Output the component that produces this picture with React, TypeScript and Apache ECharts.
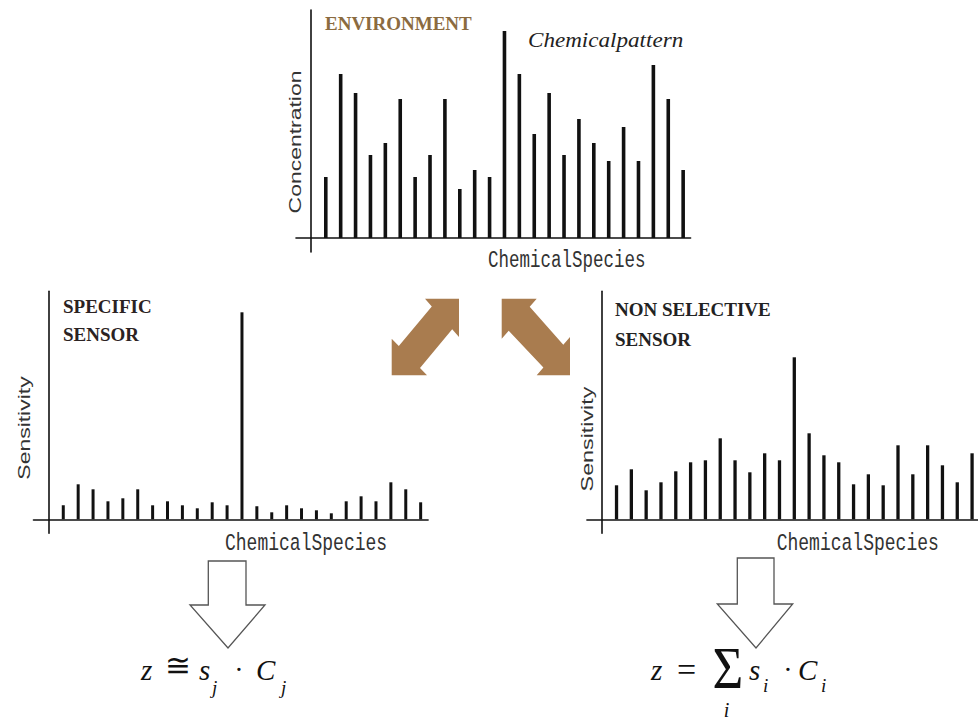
import { useEffect, useRef } from "react";
import * as echarts from "echarts";

// Concentration of each chemical species in the environment
const concentration = [61, 164, 145, 83, 95, 139, 61, 83, 139, 49, 68, 61, 207, 164, 104, 145, 83, 119, 95, 77, 111, 77, 173, 139, 68];
// Response of a specific sensor to each species
const specificSensitivity = [14, 35, 30, 18, 21, 30, 14, 18, 14, 11, 17, 14, 207, 13, 7, 14, 11, 9, 6, 18, 23, 18, 37, 30, 17];
// Response of a non-selective sensor to each species
const nonSelectiveSensitivity = [34, 50, 29, 37, 48, 57, 59, 81, 59, 47, 66, 59, 162, 86, 64, 57, 35, 45, 34, 74, 45, 74, 54, 37, 66];

const AXIS_COLOR = "#111";
const BROWN = "#a97c4f";
const SERIF = "'Liberation Serif', 'Times New Roman', serif";
const SANS = "'Liberation Sans', Arial, sans-serif";
const MONO = "'Liberation Mono', 'Courier New', monospace";

// species are placed at positions 1..n along each x axis
const toPoints = (values: number[]) => values.map((v, i) => [i + 1, v]);

const axisLine = { show: true, onZero: true, lineStyle: { color: AXIS_COLOR, width: 1.6 } };

const xAxisFor = (gridIndex: number, max: number) => ({
  type: "value",
  gridIndex,
  min: -1,
  max,
  axisLine,
  axisTick: { show: false },
  axisLabel: { show: false },
  splitLine: { show: false },
});

const yAxisFor = (gridIndex: number) => ({
  type: "value",
  gridIndex,
  min: -14,
  max: 228,
  axisLine,
  axisTick: { show: false },
  axisLabel: { show: false },
  splitLine: { show: false },
});

const barSeries = (idx: number, values: number[], width: number) => ({
  type: "bar",
  xAxisIndex: idx,
  yAxisIndex: idx,
  data: toPoints(values),
  barWidth: width,
  itemStyle: { color: "#111" },
  silent: true,
});

type TextOpts = {
  fontSize?: number;
  fontFamily?: string;
  fontStyle?: string;
  fontWeight?: string | number;
  fill?: string;
  align?: string;
  rotation?: number;
  scaleX?: number;
  scaleY?: number;
};

const label = (text: string, x: number, y: number, o: TextOpts = {}) => ({
  type: "text",
  x,
  y,
  rotation: o.rotation ?? 0,
  scaleX: o.scaleX ?? 1,
  scaleY: o.scaleY ?? 1,
  style: {
    text,
    fill: o.fill ?? "#222",
    fontSize: o.fontSize ?? 16,
    fontFamily: o.fontFamily ?? SANS,
    fontStyle: o.fontStyle ?? "normal",
    fontWeight: o.fontWeight ?? "normal",
    textAlign: o.align ?? "left",
    align: o.align ?? "left",
    textVerticalAlign: "middle",
    verticalAlign: "middle",
  },
});

const poly = (points: number[][], fill: string, stroke?: string) => ({
  type: "polygon",
  shape: { points },
  style: stroke ? { fill, stroke, lineWidth: 1.3 } : { fill },
});

export default function App() {
  const ref = useRef<HTMLDivElement>(null);

  useEffect(() => {
    if (!ref.current) return;
    const chart = echarts.init(ref.current, undefined, { renderer: "svg" });

    const italic = { fontFamily: SERIF, fontStyle: "italic", fill: "#111" };
    const vertical = { fontSize: 17, rotation: Math.PI / 2, fill: "#333", align: "center" };

    chart.setOption({
      animation: false,
      backgroundColor: "#ffffff",
      grid: [
        { left: 296, top: 10, width: 394.6, height: 242 },
        { left: 33.5, top: 291.3, width: 394.6, height: 242 },
        { left: 586.9, top: 291.3, width: 392.3, height: 242 },
      ],
      xAxis: [xAxisFor(0, 25.5), xAxisFor(1, 25.5), xAxisFor(2, 25.4)],
      yAxis: [yAxisFor(0), yAxisFor(1), yAxisFor(2)],
      series: [
        barSeries(0, concentration, 3.6),
        barSeries(1, specificSensitivity, 3),
        barSeries(2, nonSelectiveSensitivity, 3.3),
      ],
      graphic: [
        // environment panel
        label("ENVIRONMENT", 325, 23.5, { fontSize: 19, fontFamily: SERIF, fontWeight: "bold", fill: "#8b6b3f" }),
        label("Chemicalpattern", 528, 39.5, { fontSize: 21, fontFamily: SERIF, fontStyle: "italic", scaleX: 1.1, fill: "#222" }),
        label("Concentration", 295, 142, { ...vertical, scaleX: 1.35 }),
        label("ChemicalSpecies", 488, 260, { fontSize: 17, fontFamily: MONO, scaleX: 1.03, scaleY: 1.45, fill: "#333" }),

        // specific sensor panel
        label("SPECIFIC", 63, 306.7, { fontSize: 19, fontFamily: SERIF, fontWeight: "bold", fill: "#2b2222" }),
        label("SENSOR", 63, 334.5, { fontSize: 19, fontFamily: SERIF, fontWeight: "bold", fill: "#2b2222" }),
        label("Sensitivity", 24, 428, { ...vertical, scaleX: 1.35 }),
        label("ChemicalSpecies", 225, 543.3, { fontSize: 17, fontFamily: MONO, scaleX: 1.06, scaleY: 1.45, fill: "#333" }),

        // non-selective sensor panel
        label("NON SELECTIVE", 615, 309, { fontSize: 19, fontFamily: SERIF, fontWeight: "bold", fill: "#222" }),
        label("SENSOR", 615, 339, { fontSize: 19, fontFamily: SERIF, fontWeight: "bold", fill: "#222" }),
        label("Sensitivity", 587.5, 439, { ...vertical, scaleX: 1.37 }),
        label("ChemicalSpecies", 776.7, 543.3, { fontSize: 17, fontFamily: MONO, scaleX: 1.06, scaleY: 1.45, fill: "#333" }),

        // double arrows linking environment and sensors
        poly(
          [[425, 298.7], [459, 298.7], [459, 337], [452.2, 329.3], [420, 368], [427, 375.3], [391.7, 375.3], [391.7, 338.7], [398.8, 346], [431.8, 306.4]],
          BROWN
        ),
        poly(
          [[501.7, 298.7], [536.7, 298.7], [529.7, 306.7], [563.3, 344.7], [570, 337], [570, 375.3], [536.7, 375.3], [543.4, 367.6], [508.7, 330.7], [501.7, 338.7]],
          BROWN
        ),

        // hollow arrows towards the sensor outputs
        poly([[208.3, 561], [246, 561], [246, 605], [265, 605], [228, 648], [190, 605], [208.3, 605]], "#ffffff", "#555"),
        poly([[737.3, 558], [774, 558], [774, 604], [792.7, 604], [756, 648], [717.3, 604], [737.3, 604]], "#ffffff", "#555"),

        // z ≅ s_j · C_j
        label("z", 141, 669.5, { ...italic, fontSize: 29 }),
        label("≅", 165, 665, { fontFamily: SERIF, fontSize: 31, fill: "#111" }),
        label("s", 199, 669.5, { ...italic, fontSize: 29 }),
        label("j", 212, 687, { ...italic, fontSize: 19 }),
        label("·", 239, 669.5, { fontFamily: SERIF, fontSize: 28, fill: "#111", align: "center" }),
        label("C", 256, 669.5, { ...italic, fontSize: 29 }),
        label("j", 281, 687, { ...italic, fontSize: 19 }),

        // z = Σ_i s_i · C_i
        label("z", 651, 669.5, { ...italic, fontSize: 29 }),
        label("=", 677, 669.5, { fontFamily: SERIF, fontSize: 34, fill: "#111" }),
        label("Σ", 728, 668, { fontFamily: SERIF, fontSize: 46, scaleX: 1.15, scaleY: 1.3, fill: "#111", align: "center" }),
        label("i", 726.5, 710, { ...italic, fontSize: 20, align: "center" }),
        label("s", 749, 669.5, { ...italic, fontSize: 29 }),
        label("i", 763, 685, { ...italic, fontSize: 19 }),
        label("·", 788, 669.5, { fontFamily: SERIF, fontSize: 28, fill: "#111", align: "center" }),
        label("C", 798, 669.5, { ...italic, fontSize: 29 }),
        label("i", 821, 685, { ...italic, fontSize: 19 }),
      ],
    });

    return () => chart.dispose();
  }, []);

  return (
    <div
      ref={ref}
      style={{ position: "fixed", left: 0, top: 0, width: 978, height: 726, background: "#fff" }}
    />
  );
}
